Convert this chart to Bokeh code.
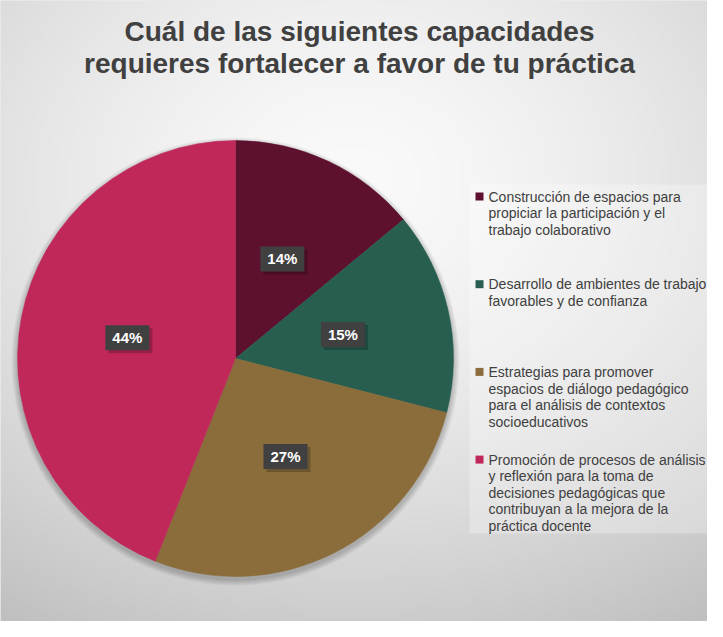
import numpy as np
from bokeh.plotting import figure
from bokeh.models import Range1d, ColumnDataSource
from bokeh.core.properties import value
from bokeh.embed import file_html
from bokeh.resources import INLINE

# ---------------- data ----------------
title_lines = ["Cuál de las siguientes capacidades",
               "requieres fortalecer a favor de tu práctica"]
categories = [
    "Construcción de espacios para\npropiciar la participación y el\ntrabajo colaborativo",
    "Desarrollo de ambientes de trabajo\nfavorables y de confianza",
    "Estrategias para promover\nespacios de diálogo pedagógico\npara el análisis de contextos\nsocioeducativos",
    "Promoción de procesos de análisis\ny reflexión para la toma de\ndecisiones pedagógicas que\ncontribuyan a la mejora de la\npráctica docente",
]
percentages = [14, 15, 27, 44]
colors = ["#5E102F", "#275E50", "#8A6D3B", "#C0285A"]

# ---------------- layout ----------------
W, H = 707, 621
def sx(x):  # screen px -> data x
    return x - 8
def sy(y):  # screen px -> data y
    return H - (y - 8)

cx, cy, R = sx(243), sy(366), 218
FONT = "Liberation Sans"
DARK = "#404040"

p = figure(width=W, height=H, output_backend="svg", toolbar_location=None,
           x_range=Range1d(0, W), y_range=Range1d(0, H), min_border=0,
           outline_line_color=None, background_fill_color="#DADADA",
           border_fill_color="#DADADA")
p.axis.visible = False
p.grid.visible = False

# background radial gradient
nx, ny = 180, 160
xs = (np.arange(nx) + 0.5) / nx * W
ys = (np.arange(ny) + 0.5) / ny * H
X, Y = np.meshgrid(xs, ys)
d = np.sqrt(((X - 352) / 600.0) ** 2 + ((Y - 440) / 480.0) ** 2)
c = np.clip(250 - 52 * d ** 1.5, 0, 255).astype(np.uint32)
img = np.empty((ny, nx), dtype=np.uint32)
view = img.view(dtype=np.uint8).reshape((ny, nx, 4))
view[:, :, 0] = c
view[:, :, 1] = c
view[:, :, 2] = c
view[:, :, 3] = 255
p.image_rgba(image=[img], x=0, y=0, dw=W, dh=H)

# title
p.text(x=[sx(367)] * 2, y=[sy(38.5), sy(70.5)], text=title_lines,
       text_font=value(FONT), text_font_style="bold", text_font_size="28px",
       text_color=DARK, text_align="center", text_baseline="alphabetic")

# pie shadow
for k in range(6):
    p.circle(x=cx, y=cy - 3, radius=R + 1 + k, fill_color="black",
             fill_alpha=0.035, line_color=None)

# pie
vals = np.array(percentages, dtype=float)
frac = vals / vals.sum()
cum = np.concatenate([[0], np.cumsum(frac)])
start = np.pi / 2 - cum[:-1] * 2 * np.pi
end = np.pi / 2 - cum[1:] * 2 * np.pi
mid = (start + end) / 2
src = ColumnDataSource(dict(start=start, end=end, color=colors,
                            lx=cx + 0.505 * R * np.cos(mid),
                            ly=cy + 0.505 * R * np.sin(mid),
                            lab=[f"{v}%" for v in percentages]))
p.wedge(x=cx, y=cy, radius=R, start_angle="start", end_angle="end",
        direction="clock", fill_color="color", line_color="color",
        line_width=0.5, source=src)

# labels (shadow + box)
p.text(x="lx", y="ly", text="lab", source=src, x_offset=3, y_offset=3,
       text_font=value(FONT), text_font_style="bold", text_font_size="15px",
       text_alpha=0, text_align="center", text_baseline="middle",
       background_fill_color="black", background_fill_alpha=0.22,
       padding=[7, 4])
p.text(x="lx", y="ly", text="lab", source=src,
       text_font=value(FONT), text_font_style="bold", text_font_size="15px",
       text_color="white", text_align="center", text_baseline="middle",
       background_fill_color=DARK, padding=[7, 4])

# legend box
p.quad(left=sx(477), right=W, top=sy(192), bottom=sy(541),
       fill_color="white", fill_alpha=0.28, line_color=None)

item_step = 87.7
line_step = 16.6
first_y = 204
mx, my, tx, ty, tt = [], [], [], [], []
for i, cat in enumerate(categories):
    y0 = first_y + i * item_step
    mx.append(sx(487))
    my.append(sy(y0))
    for j, line in enumerate(cat.split("\n")):
        tx.append(sx(496))
        ty.append(sy(y0 + j * line_step))
        tt.append(line)
p.rect(x=mx, y=my, width=8, height=8, fill_color=colors, line_color=None)
p.text(x=tx, y=ty, text=tt, text_font=value(FONT), text_font_size="14px",
       text_color=DARK, text_align="left", text_baseline="middle")

open("out.html", "w").write(file_html(p, INLINE))
